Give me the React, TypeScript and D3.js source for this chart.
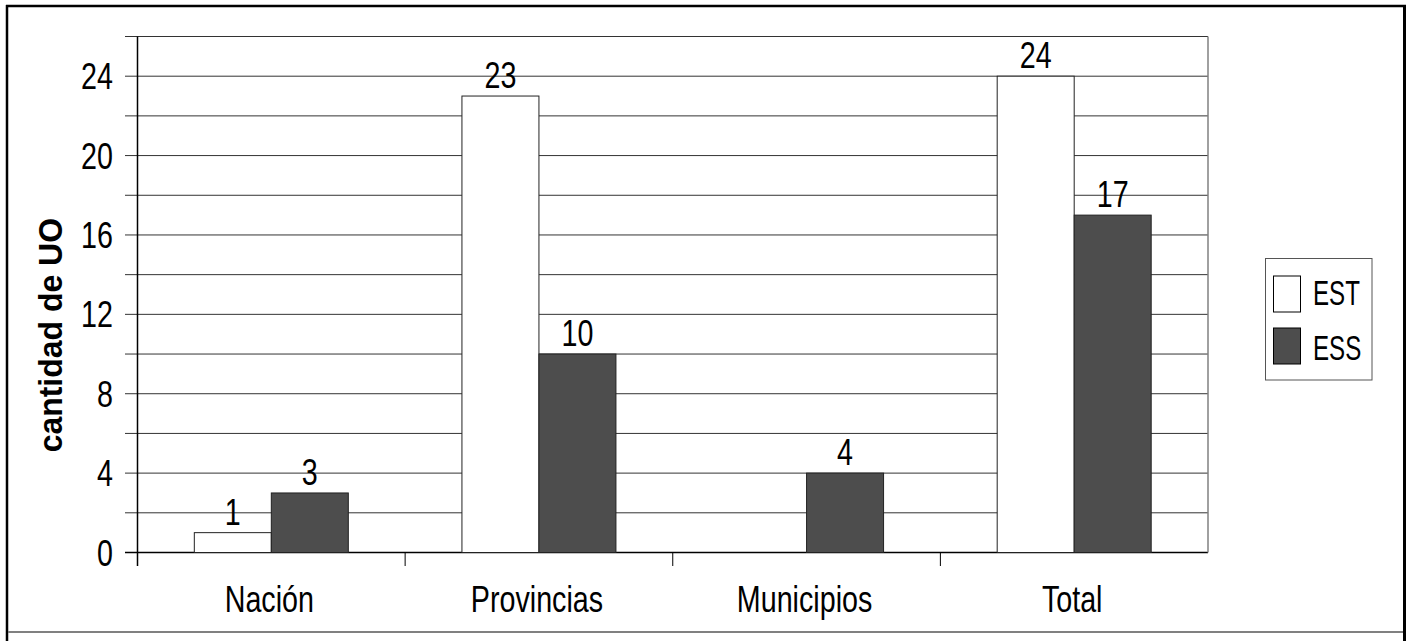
import React from "react";
import * as d3 from "d3";

const categories = ["Nación", "Provincias", "Municipios", "Total"];
const estValues = [1, 23, 0, 24];
const essValues = [3, 10, 4, 17];
const seriesNames = ["EST", "ESS"];
const yTickLabels = [0, 4, 8, 12, 16, 20, 24];
const yTitle = "cantidad de UO";

const W = 1411;
const H = 641;
const FONT = "'Liberation Sans', Arial, sans-serif";
const NARROW = 0.775;

function NText(props: {
  x: number;
  y: number;
  size: number;
  anchor?: string;
  children: React.ReactNode;
  sx?: number;
}) {
  const { x, y, size, anchor = "middle", children, sx = NARROW } = props;
  return (
    <text
      transform={`translate(${x},${y}) scale(${sx},1)`}
      fontFamily={FONT}
      fontSize={size}
      textAnchor={anchor}
      fill="#000"
    >
      {children}
    </text>
  );
}

export default function App() {
  const x = d3.scaleBand<string>().domain(categories).range([137.5, 1208]).padding(0);
  const y = d3.scaleLinear().domain([0, 26]).range([552.5, 36.5]);
  const barW = 77;
  const gridVals = y.ticks(13);
  const series = [
    { name: seriesNames[0], values: estValues, fill: "#ffffff" },
    { name: seriesNames[1], values: essValues, fill: "#4d4d4d" },
  ];
  const x0 = x.range()[0];
  const x1 = x.range()[1];

  return (
    <svg
      width={W}
      height={H}
      style={{ position: "absolute", left: 0, top: 0, display: "block", background: "#fff" }}
    >
      <rect x={0} y={0} width={W} height={H} fill="#fff" />
      {/* outer frame */}
      <line x1={6} x2={1406} y1={6} y2={6} stroke="#000" strokeWidth={2.5} />
      <line x1={7} x2={7} y1={5} y2={641} stroke="#000" strokeWidth={2.5} />
      <line x1={1404.5} x2={1404.5} y1={5} y2={641} stroke="#000" strokeWidth={3} />
      <line x1={8} x2={1403} y1={632} y2={632} stroke="#808080" strokeWidth={2} />

      {/* gridlines */}
      {gridVals.map((v) => (
        <line
          key={"g" + v}
          x1={125}
          x2={x1}
          y1={y(v)}
          y2={y(v)}
          stroke={v === 0 ? "#000" : "#333"}
          strokeWidth={v === 0 ? 1.5 : 1}
        />
      ))}
      {/* right frame of plot */}
      <line x1={x1} x2={x1} y1={y(26)} y2={y(0)} stroke="#808080" strokeWidth={1.5} />

      {/* category boundary ticks */}
      {categories.map((c, i) =>
        i === 0 ? null : (
          <line key={"t" + c} x1={x(c)!} x2={x(c)!} y1={y(0)} y2={566} stroke="#000" strokeWidth={1} />
        )
      )}

      {/* bars */}
      {series.map((s, si) =>
        categories.map((c, i) => {
          const v = s.values[i];
          if (!v) return null;
          const cx = x(c)! + x.bandwidth() / 2;
          const bx = cx - barW + si * barW;
          return (
            <rect
              key={s.name + c}
              x={bx}
              y={y(v)}
              width={barW}
              height={y(0) - y(v)}
              fill={s.fill}
              stroke="#222"
              strokeWidth={1}
            />
          );
        })
      )}

      {/* y axis */}
      <line x1={x0} x2={x0} y1={y(26)} y2={566} stroke="#000" strokeWidth={1.5} />

      {/* y tick labels */}
      {yTickLabels.map((v) => (
        <NText key={"yl" + v} x={113} y={y(v) + 13} size={37} anchor="end">
          {v}
        </NText>
      ))}

      {/* category labels */}
      {categories.map((c) => (
        <NText key={"cl" + c} x={x(c)! + x.bandwidth() / 2 - 2} y={611.5} size={37}>
          {c}
        </NText>
      ))}

      {/* value labels */}
      {series.map((s, si) =>
        categories.map((c, i) => {
          const v = s.values[i];
          if (!v) return null;
          const cx = x(c)! + x.bandwidth() / 2;
          const lx = cx - barW / 2 + si * barW;
          return (
            <NText key={"vl" + s.name + c} x={lx} y={y(v) - 8} size={37}>
              {v}
            </NText>
          );
        })
      )}

      {/* y title */}
      <text
        transform={`translate(61.5,218) rotate(-90) scale(0.94,1)`}
        fontFamily={FONT}
        fontWeight="bold"
        fontSize={34}
        textAnchor="end"
        fill="#000"
      >
        {yTitle}
      </text>

      {/* legend */}
      <rect x={1265.5} y={258.5} width={106.5} height={121.5} fill="#fff" stroke="#555" strokeWidth={1} />
      {series.map((s, si) => (
        <g key={"lg" + s.name}>
          <rect
            x={1273.5}
            y={276 + si * 52}
            width={27}
            height={36}
            fill={s.fill}
            stroke="#000"
            strokeWidth={1}
          />
          <NText x={1313} y={305 + si * 55} size={36} anchor="start" sx={0.67}>
            {s.name}
          </NText>
        </g>
      ))}
    </svg>
  );
}
